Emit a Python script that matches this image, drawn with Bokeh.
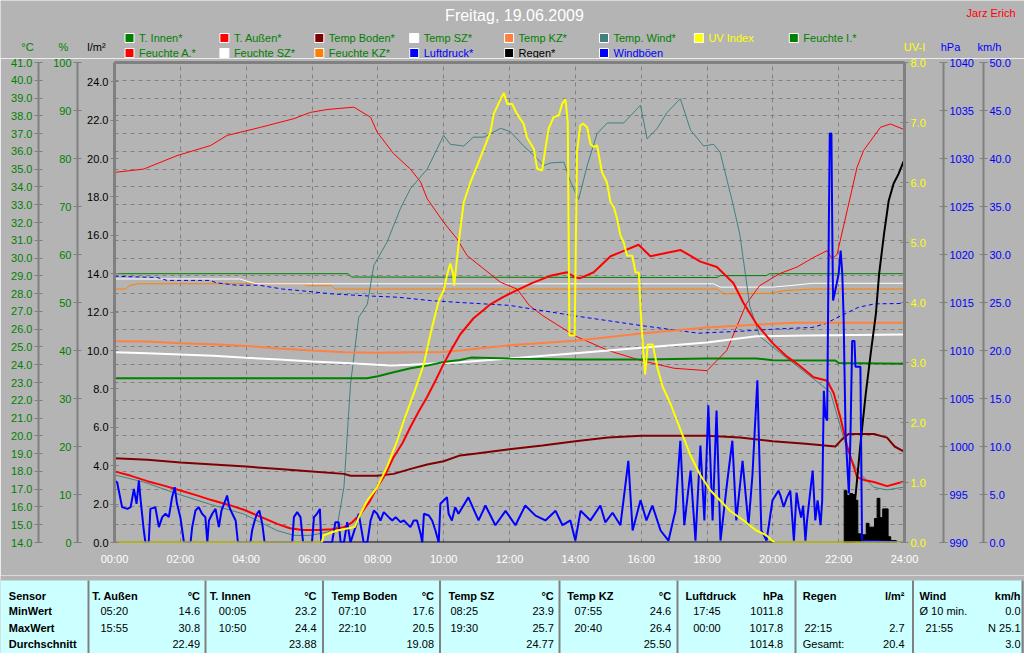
from bokeh.plotting import figure
from bokeh.models import (Range1d, LinearAxis, FixedTicker, NumeralTickFormatter, Grid)
from bokeh.layouts import column
from bokeh.embed import file_html
from bokeh.resources import INLINE
from bokeh.core.properties import value

# ---------------- data (hours, values) ----------------
t_aussen = [0, 0.5, 1, 1.5, 1.9, 2.5, 2.92, 3.5, 3.93, 4.5, 4.94, 5.33, 5.7, 6.2, 6.6, 6.97, 7.2, 7.47, 7.75, 7.98,
            8.25, 8.48, 8.75, 8.99, 9.25, 9.5, 9.75, 10.0, 10.25, 10.5, 10.9, 11.42, 11.8, 12.23, 12.7, 13.24, 13.75,
            14.0, 14.15, 14.56, 15.07, 15.47, 15.92, 16.28, 16.79, 17.2, 17.8, 18.3, 18.8, 19.1, 19.5, 20.0, 20.4,
            20.74, 21.24, 21.65, 21.85, 22.05, 22.26, 22.56, 22.8, 23.07, 23.47, 23.93, 24.0]
v_aussen = [18.0, 17.75, 17.45, 17.2, 16.98, 16.65, 16.4, 16.1, 15.84, 15.4, 15.05, 14.8, 14.7, 14.7, 14.75, 14.86,
            15.1, 15.6, 16.3, 17.1, 17.9, 18.8, 19.6, 20.5, 21.4, 22.2, 23.1, 24.05, 24.9, 25.7, 26.6, 27.4, 27.8,
            28.2, 28.6, 29.0, 29.2, 28.9, 28.87, 29.2, 30.1, 30.4, 30.75, 30.1, 30.3, 30.45, 29.8, 29.5, 28.6, 27.5,
            26.3, 25.2, 24.5, 24.05, 23.3, 23.1, 22.4, 21.05, 19.4, 17.67, 17.5, 17.4, 17.17, 17.4, 17.4]

t_wind_temp = [0, 0.89, 1.9, 2.92, 3.93, 4.94, 5.45, 5.95, 6.46, 6.76, 6.97, 7.17, 7.42, 7.68, 7.88, 8.28, 8.69, 8.99,
               9.5, 10.0, 10.2, 10.61, 10.9, 11.22, 11.73, 12.03, 12.43, 12.84, 13.04, 13.24, 13.65, 13.85, 14.1,
               14.36, 14.66, 14.97, 15.47, 15.88, 15.98, 16.18, 16.49, 16.79, 17.19, 17.5, 17.9, 18.2, 18.4, 18.8,
               19.0, 19.3, 19.6, 20.2, 21.24, 21.75, 22.26, 22.56, 23.07, 23.47, 23.93, 24.0]
v_wind_temp = [17.8, 17.4, 16.74, 16.14, 15.6, 14.67, 14.4, 14.4, 14.58, 14.86, 17.1, 22.9, 26.67, 27.4, 29.6, 30.9,
               32.8, 33.9, 35.0, 36.9, 36.4, 36.3, 36.8, 36.8, 37.3, 37.1, 36.3, 35.6, 35.2, 35.35, 35.4, 34.3, 33.3,
               35.2, 37.0, 37.6, 37.6, 38.4, 38.6, 36.7, 37.3, 38.2, 38.96, 37.2, 36.3, 36.4, 35.95, 32.95, 31.3,
               27.3, 25.6, 24.7, 23.2, 22.45, 19.2, 18.05, 17.1, 16.96, 17.1, 17.1]

t_innen = [0, 7.67, 8.0, 8.48, 9.0, 9.5, 10.0, 10.5, 10.83, 12, 14, 16, 18, 19.5, 20.0, 21.9, 22.0, 24]
v_innen = [23.24, 23.24, 23.35, 23.58, 23.8, 23.95, 24.15, 24.27, 24.4, 24.35, 24.3, 24.3, 24.35, 24.35, 24.25,
           24.24, 24.1, 24.05]

t_boden = [0, 1, 2, 3, 4, 5, 6, 6.97, 7.17, 7.98, 8.48, 9.0, 9.5, 10.0, 10.5, 11, 12, 13, 14, 15, 16, 17, 18, 19,
           20, 21, 21.9, 22.1, 22.3, 23.07, 23.47, 23.7, 24]
v_boden = [18.74, 18.65, 18.5, 18.39, 18.27, 18.14, 18.0, 17.86, 17.75, 17.75, 17.86, 18.14, 18.39, 18.57, 18.9, 19.0,
           19.25, 19.45, 19.7, 19.9, 20.0, 20.0, 20.0, 19.9, 19.7, 19.55, 19.4, 19.8, 20.1, 20.1, 19.9, 19.4, 19.1]

t_sz = [0, 1, 2, 3, 4, 5, 6, 7, 8, 8.4, 9, 10, 10.5, 12, 14, 16, 18, 19.5, 21, 24]
v_sz = [24.7, 24.65, 24.57, 24.5, 24.39, 24.3, 24.18, 24.09, 24.0, 23.95, 24.0, 24.09, 24.14, 24.35, 24.65, 24.95,
        25.25, 25.6, 25.65, 25.7]

t_kz = [0, 1, 2, 3, 4, 5, 6, 7, 8, 9, 10, 10.5, 12, 14, 16, 18, 20, 20.7, 24]
v_kz = [25.32, 25.3, 25.21, 25.15, 25.06, 24.91, 24.8, 24.7, 24.68, 24.7, 24.72, 24.8, 25.1, 25.35, 25.75, 26.1,
        26.3, 26.36, 26.36]

t_feuchte_a = [0, 0.89, 1.9, 2.92, 3.42, 4.44, 5.45, 5.95, 6.46, 7.27, 7.78, 7.98, 8.48, 8.99, 9.3, 9.5, 10.0, 10.4,
               10.71, 11.22, 11.73, 12.23, 12.6, 13.0, 14.0, 15.0, 16.0, 17.0, 18.0, 18.6, 19.2, 19.6, 20.2, 20.74,
               21.24, 21.65, 21.8, 21.95, 22.26, 22.56, 22.76, 23.27, 23.57, 23.93, 24.0]
v_feuchte_a = [77.1, 77.8, 80.6, 82.7, 84.8, 86.5, 88.3, 89.6, 90.2, 90.7, 88.6, 85.5, 81.0, 77.8, 75.1, 71.6, 66.7,
               63.3, 59.8, 57.0, 54.2, 52.8, 49.4, 47.3, 43.0, 40.0, 37.9, 36.3, 35.8, 40.0, 49.8, 53.5, 56.0, 57.4,
               59.4, 60.8, 59.1, 60.0, 69.2, 78.2, 81.7, 86.5, 87.2, 86.2, 86.0]

t_feuchte_i = [0, 7.1, 7.2, 18.3, 18.4, 19.8, 19.9, 24]
v_feuchte_i = [56.0, 56.0, 55.3, 55.2, 55.6, 55.6, 56.0, 56.0]

t_feuchte_sz = [0, 3.8, 4.3, 18.2, 18.4, 20.0, 20.5, 21.2, 24]
v_feuchte_sz = [54.9, 54.9, 53.9, 53.9, 53.2, 53.2, 53.5, 54.0, 54.0]

t_feuchte_kz = [0, 0.35, 0.45, 0.7, 5.75, 5.85, 6.6, 6.7, 18.3, 18.5, 19.9, 20.4, 21.2, 24]
v_feuchte_kz = [52.8, 52.8, 53.5, 53.9, 53.9, 53.5, 53.5, 52.8, 52.8, 51.8, 51.9, 52.5, 52.8, 52.8]

t_druck = [0, 1.3, 1.6, 2.9, 3.1, 3.7, 4.4, 5.1, 5.6, 6.6, 7.6, 8.6, 9.6, 10.5, 12, 14, 16, 17.75, 18, 19, 20.2,
           21.2, 21.6, 22.0, 22.3, 22.6, 23.1, 24]
v_druck = [1017.74, 1017.6, 1017.3, 1017.3, 1017.05, 1016.8, 1016.8, 1016.4, 1016.25, 1015.9, 1015.7, 1015.55,
           1015.2, 1015.0, 1014.7, 1013.6, 1012.6, 1011.8, 1011.85, 1012.0, 1012.26, 1012.4, 1012.8, 1013.5,
           1014.0, 1014.5, 1014.86, 1014.9]

t_uv = [0, 6.3, 6.35, 6.77, 7.3, 7.42, 7.68, 7.98, 8.28, 8.59, 8.79, 9.09, 9.4, 9.6, 9.85, 10.0, 10.1, 10.2, 10.28,
        10.32, 10.38, 10.5, 10.61, 10.81, 11.02, 11.22, 11.42, 11.52, 11.73, 11.83, 11.93, 12.08, 12.23, 12.43,
        12.53, 12.74, 12.84, 12.99, 13.09, 13.19, 13.34, 13.5, 13.6, 13.7, 13.77, 13.82, 13.98, 14.05, 14.15, 14.24,
        14.36, 14.46, 14.56, 14.66, 14.81, 14.96, 15.07, 15.17, 15.27, 15.37, 15.47, 15.57, 15.73, 15.83, 15.93,
        15.98, 16.05, 16.12, 16.2, 16.35, 16.5, 16.65, 16.9, 17.2, 17.5, 17.8, 18.1, 18.4, 18.7, 19.1, 19.5, 19.8,
        20.05, 24]
v_uv = [0, 0, 0.12, 0.2, 0.26, 0.42, 0.7, 0.92, 1.26, 1.7, 2.03, 2.48, 2.98, 3.48, 4.03, 4.2, 4.45, 4.65, 4.5,
        4.28, 4.6, 5.2, 5.67, 6.0, 6.28, 6.56, 6.84, 7.14, 7.39, 7.49, 7.31, 7.31, 7.14, 6.98, 6.75, 6.56, 6.23, 6.2,
        6.56, 6.9, 7.09, 7.12, 7.31, 7.39, 7.0, 3.45, 3.45, 6.5, 6.95, 6.98, 6.92, 6.64, 6.59, 6.62, 6.17, 6.0,
        5.67, 5.59, 5.39, 5.12, 5.0, 4.78, 4.78, 4.5, 4.5, 3.9, 3.3, 2.8, 3.3, 3.3, 2.9, 2.6, 2.3, 1.87, 1.45, 1.12,
        0.87, 0.7, 0.53, 0.37, 0.2, 0.12, 0, 0]

t_boeen = [0.0, 0.08, 0.23, 0.39, 0.49, 0.59, 0.67, 0.74, 0.79, 0.89, 0.94, 1.04, 1.09, 1.24, 1.35, 1.45, 1.55, 1.65,
           1.75, 1.83, 1.9, 2.0, 2.11, 2.31, 2.36, 2.46, 2.56, 2.66, 2.76, 2.82, 2.87, 2.97, 3.07, 3.17, 3.25, 3.37,
           3.42, 3.49, 3.58, 3.68, 3.75, 4.13, 4.18, 4.26, 4.33, 4.4, 4.49, 4.56, 5.4, 5.45, 5.55, 5.65, 5.73, 6.0,
           6.06, 6.15, 6.24, 6.28, 6.61, 6.71, 6.81, 6.87, 6.97, 7.07, 7.17, 7.32, 7.42, 7.49, 7.57, 7.68, 7.78,
           7.88, 7.98, 8.08, 8.18, 8.33, 8.44, 8.54, 8.69, 8.79, 8.89, 8.99, 9.09, 9.19, 9.3, 9.35, 9.4, 9.55, 9.65,
           9.75, 9.85, 9.9, 10.0, 10.1, 10.15, 10.25, 10.35, 10.45,
           10.75, 11.06, 11.27, 11.57, 11.88, 12.18, 12.48, 12.79, 13.09, 13.4, 13.61, 13.85, 14.0, 14.16, 14.46,
           14.76, 14.91, 15.13, 15.37, 15.61, 15.74, 15.98, 16.16, 16.34, 16.59, 16.83, 17.04, 17.19, 17.31, 17.5,
           17.65, 17.8, 17.92, 18.04, 18.17, 18.29, 18.41, 18.62, 18.77, 18.89, 19.08, 19.26, 19.38, 19.53, 19.65,
           19.81, 19.99, 20.17, 20.23, 20.33, 20.43, 20.53, 20.64, 20.72, 20.79, 20.86, 20.92, 20.99, 21.04, 21.14,
           21.21, 21.29, 21.36, 21.45, 21.5, 21.55, 21.6, 21.65, 21.7, 21.73, 21.78, 21.81, 21.83, 21.9, 22.0,
           22.06, 22.11, 22.15, 22.21, 22.31, 22.36, 22.41, 22.48, 22.51, 22.66, 22.71, 24.0]
v_boeen = [6.46, 6.28, 3.68, 3.5, 3.68, 5.59, 4.03, 6.46, 4.55, 1.25, 0, 0, 3.5, 3.68, 1.6, 2.64, 2.99, 2.64, 4.72,
           5.76, 4.03, 2.64, 0, 0, 1.6, 3.33, 3.68, 2.99, 2.64, 0, 2.29, 2.99, 3.5, 1.6, 3.33, 4.38, 4.9, 3.68, 2.99,
           2.29, 0, 0, 1.25, 2.29, 2.99, 3.33, 1.94, 0, 0, 2.64, 3.16, 2.64, 0, 0, 2.64, 2.99, 3.5, 0, 0, 2.12, 2.12,
           0, 0, 2.12, 0, 1.6, 2.99, 1.6, 0, 0, 2.29, 3.33, 2.99, 2.29, 3.16, 2.64, 2.29, 2.64, 2.12, 2.29, 1.94, 1.6,
           2.29, 2.29, 0.9, 0, 2.99, 2.81, 2.29, 1.25, 0, 4.03, 4.38, 4.72, 2.99, 2.29, 3.68, 2.99,
           4.7, 2.3, 3.85, 1.8, 3.3, 1.8, 3.85, 2.8, 2.3, 3.3, 1.8, 2.3, 0.2, 3.3, 2.3,
           3.85, 2.1, 3.1, 1.8, 8.5, 1.25, 4.4, 2.3, 3.85, 1.25, 0.2, 3.3, 10.6, 1.8, 7.5,
           0.2, 10.1, 2.3, 14.3, 2.3, 13.75, 0.2, 6.5, 10.6, 2.3, 8.5, 1.8, 7.0, 16.9, 1.25,
           0.2, 4.4, 5.4, 4.9, 3.7, 4.7, 5.4, 0.2, 5.2, 3.7, 2.6, 3.85, 0.2, 2.3, 5.4,
           7.5, 2.3, 4.4, 1.8, 4.4, 15.8, 13.1, 12.7, 32.5, 42.6, 42.6, 31.1, 25.2, 26.3, 28.0,
           30.4, 28.0, 23.5, 11.3, 5.1, 11.3, 21.0, 21.0, 18.3, 18.3, 0.2, 0.0]

t_regen = [0, 22.38, 22.5, 22.66, 22.82, 22.97, 23.13, 23.23, 23.38, 23.52, 23.67, 23.82, 23.96, 24.0]
v_regen = [0, 0, 2.2, 5.1, 7.7, 9.8, 11.9, 14.0, 16.1, 17.8, 18.7, 19.2, 19.8, 19.9]

t_regen_bar = [22.21, 22.29, 22.38, 22.46, 22.54, 22.63, 22.71, 22.79, 22.88, 22.96, 23.04, 23.13, 23.21, 23.29,
               23.38, 23.46, 23.54, 23.63, 23.71]
v_regen_bar = [2.7, 2.45, 2.55, 2.5, 2.2, 0.45, 0.4, 0.4, 1.0, 0.8, 0.8, 1.25, 2.3, 1.3, 1.75, 1.75, 0.3, 0.1, 0.1]

# legend entries (two rows of the header)
legend_names = ["T. Innen*", "T. Außen*", "Temp Boden*", "Temp SZ*", "Temp KZ*", "Temp. Wind*", "UV Index",
                "Feuchte I.*", "Feuchte A.*", "Feuchte SZ*", "Feuchte KZ*", "Luftdruck*", "Regen*", "Windböen"]

# statistics table
tab_sensors = ["T. Außen", "T. Innen", "Temp Boden", "Temp SZ", "Temp KZ", "Luftdruck", "Regen", "Wind"]
tab_units = ["°C", "°C", "°C", "°C", "°C", "hPa", "l/m²", "km/h"]
tab_min_time = ["05:20", "00:05", "07:10", "08:25", "07:55", "17:45", "", "Ø 10 min."]
tab_min_val = ["14.6", "23.2", "17.6", "23.9", "24.6", "1011.8", "", "0.0"]
tab_max_time = ["15:55", "10:50", "22:10", "19:30", "20:40", "00:00", "22:15", "21:55"]
tab_max_val = ["30.8", "24.4", "20.5", "25.7", "26.4", "1017.8", "2.7", "N 25.1"]
tab_avg_time = ["", "", "", "", "", "", "Gesamt:", ""]
tab_avg_val = ["22.49", "23.88", "19.08", "24.77", "25.50", "1014.8", "20.4", "3.0"]
tab_rows = ["Sensor", "MinWert", "MaxWert", "Durchschnitt"]

# ---------------- styling ----------------
BG = "#B4B4B4"
FONT = "Liberation Sans"
GREEN = "#008000"
BLUE = "#0000FF"
YELLOW = "#FFFF00"
GRAYL = "#808080"
W = 1024

# ---------------- header figure (title, legend, unit captions) ----------------
hd = figure(width=W, height=58, output_backend="svg", toolbar_location=None,
            x_range=Range1d(0, W), y_range=Range1d(58, 0), min_border=0,
            x_axis_location=None, y_axis_location=None, frame_align=False,
            background_fill_color=BG, border_fill_color=BG, outline_line_color=None)
hd.grid.visible = False
hd.text(x=[514], y=[15], text=["Freitag, 19.06.2009"], text_color="white", text_align="center",
        text_baseline="middle", text_font=value(FONT), text_font_size=value("16px"))
hd.text(x=[1015], y=[12], text=["Jarz Erich"], text_color="#FF0000", text_align="right",
        text_baseline="middle", text_font=value(FONT), text_font_size=value("11px"))
unit_txt = ["°C", "%", "l/m²", "UV-I", "hPa", "km/h"]
unit_x = [27, 63, 96, 914, 950, 989]
unit_col = [GREEN, GREEN, "black", YELLOW, BLUE, BLUE]
hd.text(x=unit_x, y=[46] * 6, text=unit_txt, text_color=unit_col, text_align="center",
        text_baseline="middle", text_font=value(FONT), text_font_size=value("11px"))

sw_colors = [GREEN, "#FF0000", "#800000", "white", "#FF8040", "#408080", YELLOW, GREEN,
             "#FF0000", "white", "#FF8000", BLUE, "black", BLUE]
txt_colors = [GREEN] * 6 + [YELLOW, GREEN] + [GREEN] * 3 + [BLUE, "black", BLUE]
lg_col = [i % 8 for i in range(len(legend_names))]
lg_row = [i // 8 for i in range(len(legend_names))]
sw_left = [124.5 + 94.9 * c for c in lg_col]
sw_top = [33 + 15 * r for r in lg_row]
hd.quad(left=sw_left, right=[x + 9 for x in sw_left], top=sw_top, bottom=[y + 9 for y in sw_top],
        fill_color=sw_colors, line_color="white", line_width=1)
hd.text(x=[x + 14 for x in sw_left], y=[y + 4.5 for y in sw_top], text=legend_names, text_color=txt_colors,
        text_align="left", text_baseline="middle", text_font=value(FONT), text_font_size=value("11px"))

# ---------------- main chart ----------------
p = figure(width=W, height=517, output_backend="svg", toolbar_location=None,
           x_range=Range1d(0, 24), y_range=Range1d(0, 25), frame_align=False,
           min_border_left=114, min_border_right=120, min_border_top=4, min_border_bottom=33,
           background_fill_color=BG, border_fill_color=BG, outline_line_color=None)
p.extra_y_ranges = {"c": Range1d(14, 41), "h": Range1d(0, 100), "uv": Range1d(0, 8),
                    "p": Range1d(990, 1040), "w": Range1d(0, 50)}


def style_axis(ax, ticks, fmt, color, line_w=2, pad=0):
    ax.ticker = FixedTicker(ticks=ticks)
    ax.formatter = NumeralTickFormatter(format=fmt)
    ax.major_label_text_color = color
    ax.major_label_text_font = FONT
    ax.major_label_text_font_size = "11px"
    ax.axis_line_color = GRAYL
    ax.axis_line_width = line_w
    ax.major_tick_line_color = GRAYL
    ax.major_tick_in = 4
    ax.major_tick_out = 4
    ax.minor_tick_line_color = None
    ax.major_label_standoff = 2
    if pad:
        ax.axis_label = " "
        ax.axis_label_text_font_size = "1px"
        ax.axis_label_standoff = pad


xa = p.below[0]
xa.ticker = FixedTicker(ticks=list(range(0, 25, 2)))
xa.major_label_overrides = {h: "%02d:00" % h for h in range(0, 25, 2)}
xa.major_label_text_color = "white"
xa.major_label_text_font = FONT
xa.major_label_text_font_size = "11px"
xa.axis_line_color = None
xa.major_tick_line_color = None
xa.minor_tick_line_color = None
xa.major_label_standoff = 4

# left axes: l/m² (inner), %, °C (outer)
style_axis(p.left[0], [i * 2 for i in range(13)], "0.0", "black", line_w=3, pad=2)
ax_h = LinearAxis(y_range_name="h")
style_axis(ax_h, [i * 10 for i in range(11)], "0", GREEN, pad=8)
p.add_layout(ax_h, "left")
ax_c = LinearAxis(y_range_name="c")
style_axis(ax_c, list(range(14, 42)), "0.0", GREEN)
p.add_layout(ax_c, "left")
# right axes: UV (inner), hPa, km/h
ax_uv = LinearAxis(y_range_name="uv")
style_axis(ax_uv, list(range(0, 9)), "0.0", YELLOW, line_w=3, pad=11)
p.add_layout(ax_uv, "right")
ax_p = LinearAxis(y_range_name="p")
style_axis(ax_p, list(range(990, 1041, 5)), "0", BLUE, pad=2)
p.add_layout(ax_p, "right")
ax_w = LinearAxis(y_range_name="w")
style_axis(ax_w, [i * 5 for i in range(11)], "0.0", BLUE)
p.add_layout(ax_w, "right")

# top frame line
ax_top = LinearAxis(ticker=FixedTicker(ticks=[]), axis_line_color=GRAYL, axis_line_width=3,
                    major_tick_line_color=None, minor_tick_line_color=None,
                    major_tick_out=0, major_tick_in=0, major_label_standoff=0)
p.add_layout(ax_top, "above")

# grids
p.xgrid[0].ticker = FixedTicker(ticks=list(range(2, 24, 2)))
p.xgrid[0].grid_line_color = GRAYL
p.xgrid[0].grid_line_dash = "4 4"
p.ygrid[0].visible = False
gy = Grid(dimension=1, ticker=FixedTicker(ticks=list(range(15, 41))), y_range_name="c",
          grid_line_color=GRAYL, grid_line_dash="4 4")
p.add_layout(gy)

# series
p.line(t_feuchte_kz, v_feuchte_kz, y_range_name="h", line_color="#FF8000", line_width=1)
p.line(t_feuchte_sz, v_feuchte_sz, y_range_name="h", line_color="white", line_width=1)
p.line(t_feuchte_i, v_feuchte_i, y_range_name="h", line_color=GREEN, line_width=1)
p.line(t_feuchte_a, v_feuchte_a, y_range_name="h", line_color="#FF0000", line_width=1)
p.line(t_druck, v_druck, y_range_name="p", line_color=BLUE, line_width=1, line_dash="4 3")
p.line(t_wind_temp, v_wind_temp, y_range_name="c", line_color="#408080", line_width=1)
p.line(t_kz, v_kz, y_range_name="c", line_color="#FF8040", line_width=2)
p.line(t_sz, v_sz, y_range_name="c", line_color="white", line_width=2)
p.line(t_innen, v_innen, y_range_name="c", line_color=GREEN, line_width=2)
p.line(t_boden, v_boden, y_range_name="c", line_color="#800000", line_width=2)
p.line(t_aussen, v_aussen, y_range_name="c", line_color="#FF0000", line_width=2)
p.vbar(x=t_regen_bar, top=v_regen_bar, width=1 / 12, fill_color="black", line_color="black")
p.line(t_regen, v_regen, line_color="black", line_width=2)
p.line(t_boeen, v_boeen, y_range_name="w", line_color=BLUE, line_width=2)
p.line(t_uv, v_uv, y_range_name="uv", line_color=YELLOW, line_width=2)

# ---------------- statistics table ----------------
tb = figure(width=W, height=78, output_backend="svg", toolbar_location=None,
            x_range=Range1d(0, W), y_range=Range1d(653, 575), min_border=0,
            x_axis_location=None, y_axis_location=None, frame_align=False,
            background_fill_color=BG, border_fill_color=BG, outline_line_color=None)
tb.grid.visible = False
tb.quad(left=[0], right=[1022], top=[580], bottom=[653], fill_color="#CCFFFF", line_color=None)
col_left = [88, 205, 322.5, 439.5, 559, 677, 795, 912.5, 1022]
tb.segment(x0=col_left, x1=col_left, y0=[580] * 9, y1=[653] * 9, line_color=GRAYL, line_width=2)
row_y = [595.5, 610.5, 627, 643]
name_x = [91.7, 209.3, 331, 448, 566.7, 685, 802.3, 919]
val_right = [199.5, 316, 433.5, 553.3, 670.7, 782.7, 904, 1020]
time_x = [100, 218.3, 338, 450, 574, 692.7, 804, 919]
time2_x = [100, 218.3, 338, 450, 574, 692.7, 804, 925]

bold = dict(text_font=value(FONT), text_font_size=value("11px"), text_font_style="bold",
            text_baseline="middle", text_color="black")
norm = dict(text_font=value(FONT), text_font_size=value("11px"), text_baseline="middle", text_color="black")
tb.text(x=[8.3] * 4, y=row_y, text=tab_rows, text_align="left", **bold)
tb.text(x=name_x, y=[row_y[0]] * 8, text=tab_sensors, text_align="left", **bold)
tb.text(x=val_right, y=[row_y[0]] * 8, text=tab_units, text_align="right", **bold)
tb.text(x=time_x, y=[row_y[1]] * 8, text=tab_min_time, text_align="left", **norm)
tb.text(x=val_right, y=[row_y[1]] * 8, text=tab_min_val, text_align="right", **norm)
tb.text(x=time2_x, y=[row_y[2]] * 8, text=tab_max_time, text_align="left", **norm)
tb.text(x=val_right, y=[row_y[2]] * 8, text=tab_max_val, text_align="right", **norm)
tb.text(x=name_x, y=[row_y[3]] * 8, text=tab_avg_time, text_align="left", **norm)
tb.text(x=val_right, y=[row_y[3]] * 8, text=tab_avg_val, text_align="right", **norm)

layout = column(hd, p, tb, spacing=0)
open("out.html", "w").write(file_html(layout, INLINE))
